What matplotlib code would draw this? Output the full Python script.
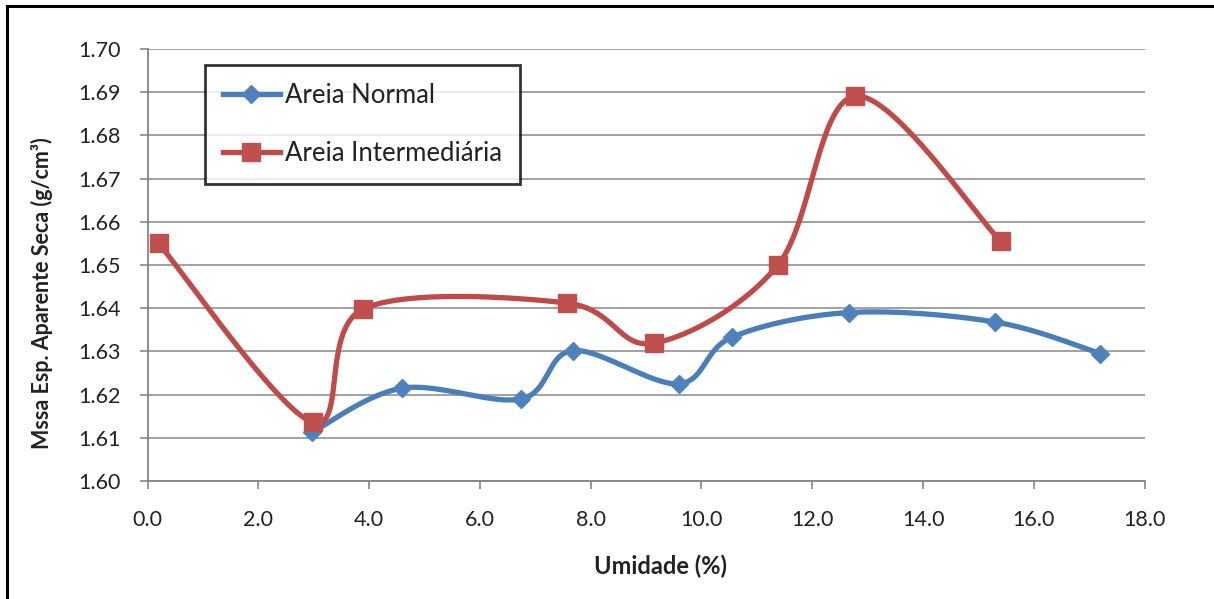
import numpy as np
import matplotlib
matplotlib.use("Agg")
import matplotlib.pyplot as plt
from matplotlib.lines import Line2D

# Data
normal_x = [2.97, 4.60, 6.75, 7.68, 9.59, 10.55, 12.67, 15.30, 17.20]
normal_y = [1.6113, 1.6215, 1.6190, 1.6302, 1.6225, 1.6333, 1.6390, 1.6368, 1.6295]
inter_x = [0.20, 2.98, 3.89, 7.57, 9.14, 11.38, 12.78, 15.40]
inter_y = [1.6550, 1.6136, 1.6398, 1.6412, 1.6319, 1.6500, 1.6891, 1.6555]
series_names = ["Areia Normal", "Areia Intermediária"]
x_ticks = [0, 2, 4, 6, 8, 10, 12, 14, 16, 18]
y_ticks = [1.60, 1.61, 1.62, 1.63, 1.64, 1.65, 1.66, 1.67, 1.68, 1.69, 1.70]
x_label = "Umidade (%)"
y_label = "Mssa Esp. Aparente Seca (g/cm³)"

FONT = ["Lato", "DejaVu Sans"]
plt.rcParams['font.family'] = FONT


def smooth(xs, ys, n=40):
    """Excel-like smoothed line: Catmull-Rom Bezier segments."""
    P = np.column_stack([xs, ys]).astype(float)
    ext = np.vstack([P[0], P, P[-1]])
    out = []
    for i in range(len(P) - 1):
        p0, p1, p2, p3 = ext[i], ext[i + 1], ext[i + 2], ext[i + 3]
        c1 = p1 + (p2 - p0) / 6.0
        c2 = p2 - (p3 - p1) / 6.0
        t = np.linspace(0, 1, n)[:, None]
        seg = ((1 - t) ** 3) * p1 + 3 * ((1 - t) ** 2) * t * c1 + 3 * (1 - t) * t ** 2 * c2 + t ** 3 * p2
        out.append(seg if i == 0 else seg[1:])
    s = np.vstack(out)
    return s[:, 0], s[:, 1]


fig = plt.figure(figsize=(12.14, 5.99), dpi=100)
ax = fig.add_axes([0.1215, 0.197, 0.8214, 0.7212])

blue_line = "#4A7EBB"
blue_mk = "#4F81BD"
red_line = "#BE4B48"
red_mk = "#C0504D"

sx, sy = smooth(normal_x, normal_y)
ax.plot(sx, sy, color=blue_line, lw=3.8, solid_capstyle='round', zorder=3)
ax.plot(normal_x, normal_y, linestyle='none', marker='D', ms=9.5, color=blue_mk,
        markeredgecolor=blue_mk, zorder=4)

sx, sy = smooth(inter_x, inter_y)
ax.plot(sx, sy, color=red_line, lw=3.8, solid_capstyle='round', zorder=3)
ax.plot(inter_x, inter_y, linestyle='none', marker='s', ms=13.5, color=red_mk,
        markeredgecolor=red_mk, zorder=4)

ax.set_xlim(0, 18)
ax.set_ylim(1.60, 1.70)
ax.set_xticks(x_ticks)
ax.set_yticks(y_ticks)
ax.set_xticklabels([f"{v:.1f}" for v in x_ticks])
ax.set_yticklabels([f"{v:.2f}" for v in y_ticks])
ax.tick_params(axis='both', labelsize=15.5, colors='#868686', labelcolor='#222222',
               length=6, width=1.2, direction='out')
ax.tick_params(axis='x', pad=15)
ax.tick_params(axis='y', pad=13)

ax.grid(axis='y', color='#9a9a9a', lw=1.3)
ax.set_axisbelow(True)
for s in ['top', 'right']:
    ax.spines[s].set_visible(False)
for s in ['left', 'bottom']:
    ax.spines[s].set_color('#868686')
    ax.spines[s].set_linewidth(1.3)

ax.set_xlabel(x_label, fontsize=17, fontweight='bold', color='#222222')
ax.set_ylabel(y_label, fontsize=15.5, fontweight='bold', color='#222222')
ax.xaxis.set_label_coords((661 - 147.5) / 997.2, (481 - 566) / 432)
ax.yaxis.set_label_coords((42 - 147.5) / 997.2, (481 - 293) / 432)
ax.xaxis.label.set_va('center')
ax.yaxis.label.set_va('center')

handles = [
    Line2D([], [], color=blue_line, lw=3.8, marker='D', ms=9.5, markerfacecolor=blue_mk,
           markeredgecolor=blue_mk),
    Line2D([], [], color=red_line, lw=3.8, marker='s', ms=13.5, markerfacecolor=red_mk,
           markeredgecolor=red_mk),
]
leg = ax.legend(handles, series_names, loc='upper left',
                bbox_to_anchor=((205 - 147.5) / 997.2, (481 - 65) / 432),
                fontsize=18.5, frameon=True, fancybox=False, edgecolor='black',
                borderpad=0.7, labelspacing=1.3, handlelength=2.2, handletextpad=0.2,
                borderaxespad=0)
leg.get_frame().set_linewidth(2.0)
for t in leg.get_texts():
    t.set_color('#222222')

# Outer chart frame (top and left edges visible)
fig.add_artist(Line2D([7 / 1214, 1.0], [1 - 6 / 599, 1 - 6 / 599], color='black', lw=2.2,
                      transform=fig.transFigure))
fig.add_artist(Line2D([7 / 1214, 7 / 1214], [0, 1 - 6 / 599], color='black', lw=2.2,
                      transform=fig.transFigure))

fig.savefig("out.png", dpi=100)
